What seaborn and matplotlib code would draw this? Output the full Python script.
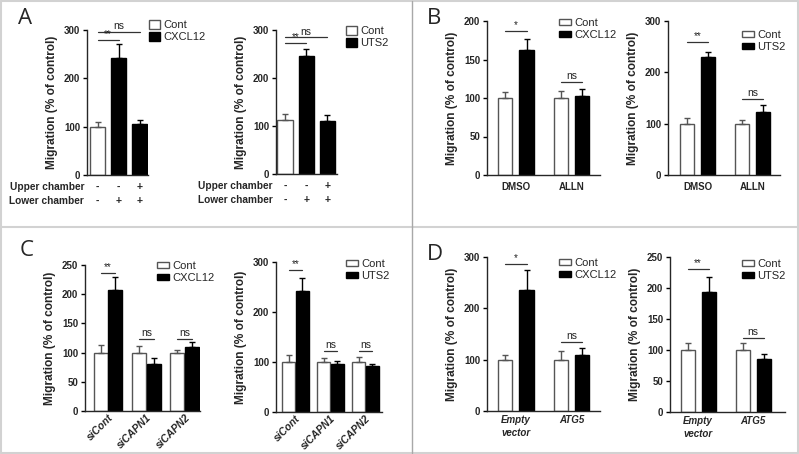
import numpy as np
import pandas as pd
import matplotlib.pyplot as plt
import seaborn as sns

# ---- data (migration, % of control; mean and upper SEM) ----

# A: chemokine in upper / lower chamber
a_bars = ['b1', 'b2', 'b3']
a_upper = ['-', '-', '+']
a_lower = ['-', '+', '+']
a_cxcl12_cond = ['Cont', 'CXCL12', 'CXCL12']
a_cxcl12_mean = [100, 243, 105]
a_cxcl12_err = [10, 29, 9]
a_uts2_cond = ['Cont', 'UTS2', 'UTS2']
a_uts2_mean = [112, 245, 111]
a_uts2_err = [12, 15, 12]

# B: calpain inhibitor
b_groups = ['DMSO', 'ALLN']
b_cxcl12_cont = [100, 100]
b_cxcl12_cont_err = [8, 9]
b_cxcl12 = [162, 103]
b_cxcl12_err = [15, 9]
b_uts2_cont = [100, 100]
b_uts2_cont_err = [11, 8]
b_uts2 = [230, 122]
b_uts2_err = [9, 15]

# C: calpain knockdown
c_groups = ['siCont', 'siCAPN1', 'siCAPN2']
c_cxcl12_cont = [100, 100, 100]
c_cxcl12_cont_err = [13, 12, 5]
c_cxcl12 = [208, 80, 109]
c_cxcl12_err = [21, 11, 9]
c_uts2_cont = [100, 100, 100]
c_uts2_cont_err = [14, 9, 11]
c_uts2 = [242, 97, 93]
c_uts2_err = [26, 6, 4]

# D: ATG5
d_groups = ['Empty\nvector', 'ATG5']
d_cxcl12_cont = [100, 100]
d_cxcl12_cont_err = [10, 16]
d_cxcl12 = [235, 110]
d_cxcl12_err = [39, 12]
d_uts2_cont = [100, 100]
d_uts2_cont_err = [11, 11]
d_uts2 = [194, 85]
d_uts2_err = [24, 9]

# significance marks: (first bar, second bar, height, label)
a_cxcl12_sig = [(0, 1, 279, '**'), (0, 2, 296, 'ns')]
a_uts2_sig = [(0, 1, 273, '**'), (0, 2, 285, 'ns')]
b_cxcl12_sig = [(0, 187, '*'), (1, 121, 'ns')]
b_uts2_sig = [(0, 259, '**'), (1, 148, 'ns')]
c_cxcl12_sig = [(0, 237, '**'), (1, 124, 'ns'), (2, 124, 'ns')]
c_uts2_sig = [(0, 284, '**'), (1, 123, 'ns'), (2, 123, 'ns')]
d_cxcl12_sig = [(0, 286, '*'), (1, 135, 'ns')]
d_uts2_sig = [(0, 231, '**'), (1, 120, 'ns')]

# ---- style ----
sns.set_style('ticks')
plt.rcParams['font.family'] = ['Liberation Sans', 'DejaVu Sans']
plt.rcParams['axes.linewidth'] = 1.0

W, H = 799, 454
fig = plt.figure(figsize=(W / 100, H / 100), dpi=100)
EDGE_WHITE = '#555555'


def add_ax(left, top, right, bottom):
    return fig.add_axes([left / W, 1 - bottom / H, (right - left) / W, (bottom - top) / H])


def style_axis(ax, ymax, step, xlim):
    ax.set_ylim(0, ymax)
    ax.set_xlim(*xlim)
    ax.set_yticks(np.arange(0, ymax + 1, step))
    sns.despine(ax=ax)
    ax.tick_params(axis='y', labelsize=7, length=3, width=1, pad=2, color='black')
    ax.tick_params(axis='x', labelsize=7, length=0, pad=5)
    for lbl in ax.get_yticklabels() + ax.get_xticklabels():
        lbl.set_fontweight('bold')
    ax.set_xlabel('')
    ax.set_ylabel('Migration (% of control)', fontsize=8.6, fontweight='bold', labelpad=4)


def add_legend(ax, labels, x, y, square=True):
    handles = [c for c in ax.containers]
    ax.legend(handles, labels, loc='upper left', bbox_to_anchor=(x / W, 1 - y / H),
              bbox_transform=fig.transFigure, frameon=False, fontsize=8,
              handlelength=0.95 if square else 1.1, handleheight=0.85 if square else 0.5,
              handletextpad=0.3, labelspacing=0.15, borderpad=0, borderaxespad=0)


def sig_line(ax, x1, x2, y, label):
    ax.plot([x1, x2], [y, y], color='#333333', lw=0.9, clip_on=False)
    ax.annotate(label, xy=((x1 + x2) / 2, y), xytext=(0, 0.5), textcoords='offset points',
                ha='center', va='bottom', fontsize=7.5 if label == 'ns' else 7,
                color='#222222', annotation_clip=False)


def panel_a(ax, cond, means, errs, name, sigs, xlim, legend_xy):
    pal = {'Cont': 'white', name: 'black'}
    sns.barplot(x=a_bars, y=means, hue=cond, dodge=False, palette=pal, width=0.72,
                edgecolor=EDGE_WHITE, linewidth=1, legend=False, ax=ax)
    for c in ax.containers[1:]:
        for p in c:
            p.set_edgecolor('black')
    for i, (m, e, cnd) in enumerate(zip(means, errs, cond)):
        col = EDGE_WHITE if cnd == 'Cont' else 'black'
        ax.errorbar([i], [m], yerr=[[0], [e]], fmt='none', ecolor=col, elinewidth=1,
                    capsize=2.5, capthick=1)
    style_axis(ax, 300, 100, xlim)
    ax.set_xticks([])
    for x1, x2, y, lab in sigs:
        sig_line(ax, x1, x2, y, lab)
    for txt, dy in [('Upper chamber', -12), ('Lower chamber', -26)]:
        ax.annotate(txt, xy=(0, 0), xycoords='axes fraction', xytext=(-3, dy),
                    textcoords='offset pixels', ha='right', va='center', fontsize=7.3,
                    fontweight='bold')
    for i in range(len(a_bars)):
        for sign, dy in [(a_upper[i], -12), (a_lower[i], -26)]:
            ax.annotate(sign, xy=(i, 0), xycoords=('data', 'axes fraction'), xytext=(0, dy),
                        textcoords='offset pixels', ha='center', va='center', fontsize=7.5,
                        fontweight='bold')
    add_legend(ax, ['Cont', name], *legend_xy)


def panel_grouped(ax, groups, cont, cont_err, treat, treat_err, name, sigs, ymax, step,
                  xlim, width, gap, legend_xy):
    df = pd.DataFrame({
        'group': groups * 2,
        'cond': ['Cont'] * len(groups) + [name] * len(groups),
        'value': cont + treat,
    })
    sns.barplot(data=df, x='group', y='value', hue='cond',
                palette={'Cont': 'white', name: 'black'}, width=width, gap=gap,
                edgecolor=EDGE_WHITE, linewidth=1, errorbar=None, legend=False, ax=ax)
    for p in ax.containers[1]:
        p.set_edgecolor('black')
    centers = []
    for c, means, errs, col in zip(ax.containers, [cont, treat], [cont_err, treat_err],
                                   [EDGE_WHITE, 'black']):
        xs = [p.get_x() + p.get_width() / 2 for p in c]
        centers.append(xs)
        ax.errorbar(xs, means, yerr=[np.zeros(len(errs)), errs], fmt='none', ecolor=col,
                    elinewidth=1, capsize=2.5, capthick=1)
    style_axis(ax, ymax, step, xlim)
    for g, y, lab in sigs:
        sig_line(ax, centers[0][g], centers[1][g], y, lab)
    add_legend(ax, ['Cont', name], *legend_xy, square=False)


# ---- panel A ----
ax = add_ax(87, 30, 148, 175)
panel_a(ax, a_cxcl12_cond, a_cxcl12_mean, a_cxcl12_err, 'CXCL12', a_cxcl12_sig,
        (-0.5, 2.4), (149, 20))
ax = add_ax(276, 30, 337, 174)
panel_a(ax, a_uts2_cond, a_uts2_mean, a_uts2_err, 'UTS2', a_uts2_sig,
        (-0.43, 2.46), (346, 26))

# ---- panel B ----
ax = add_ax(487, 21, 600, 175)
panel_grouped(ax, b_groups, b_cxcl12_cont, b_cxcl12_cont_err, b_cxcl12, b_cxcl12_err,
              'CXCL12', b_cxcl12_sig, 200, 50, (-0.52, 1.51), 0.76, 0.33, (559, 18))
ax = add_ax(668, 21, 780, 175)
panel_grouped(ax, b_groups, b_uts2_cont, b_uts2_cont_err, b_uts2, b_uts2_err,
              'UTS2', b_uts2_sig, 300, 100, (-0.54, 1.5), 0.76, 0.33, (742, 30))

# ---- panel C ----
ax = add_ax(85, 265, 200, 411)
panel_grouped(ax, c_groups, c_cxcl12_cont, c_cxcl12_cont_err, c_cxcl12, c_cxcl12_err,
              'CXCL12', c_cxcl12_sig, 250, 50, (-0.6, 2.4), 0.77, 0.04, (157, 261))
ax.tick_params(axis='x', pad=1)
for lbl in ax.get_xticklabels():
    lbl.set(rotation=45, ha='right', rotation_mode='anchor', fontstyle='italic', fontsize=7.5)
ax = add_ax(276, 262, 382, 412)
panel_grouped(ax, c_groups, c_uts2_cont, c_uts2_cont_err, c_uts2, c_uts2_err,
              'UTS2', c_uts2_sig, 300, 100, (-0.55, 2.47), 0.77, 0.04, (346, 259))
ax.tick_params(axis='x', pad=1)
for lbl in ax.get_xticklabels():
    lbl.set(rotation=45, ha='right', rotation_mode='anchor', fontstyle='italic', fontsize=7.5)

# ---- panel D ----
ax = add_ax(487, 257, 600, 411)
panel_grouped(ax, d_groups, d_cxcl12_cont, d_cxcl12_cont_err, d_cxcl12, d_cxcl12_err,
              'CXCL12', d_cxcl12_sig, 300, 100, (-0.52, 1.51), 0.76, 0.33, (559, 258))
ax.tick_params(axis='x', pad=3)
for lbl in ax.get_xticklabels():
    lbl.set(fontstyle='italic', va='top', linespacing=1.3)
ax = add_ax(670, 257, 785, 412)
panel_grouped(ax, d_groups, d_uts2_cont, d_uts2_cont_err, d_uts2, d_uts2_err,
              'UTS2', d_uts2_sig, 250, 50, (-0.51, 1.58), 0.76, 0.33, (742, 259))
ax.tick_params(axis='x', pad=3)
for lbl in ax.get_xticklabels():
    lbl.set(fontstyle='italic', va='top', linespacing=1.3)

# ---- panel letters and frames ----
for letter, x, y in [('A', 18, 8), ('B', 427, 8), ('C', 20, 240), ('D', 427, 244)]:
    fig.text(x / W, 1 - y / H, letter, fontsize=16, va='top', ha='left',
             family=['Open Sans', 'DejaVu Sans'])


def frame_line(x1, y1, x2, y2, color, lw):
    fig.add_artist(plt.Line2D([x1 / W, x2 / W], [1 - y1 / H, 1 - y2 / H],
                              transform=fig.transFigure, color=color, lw=lw))


frame_line(1, 1, 798, 1, '#d2d2d2', 1.5)
frame_line(1, 453, 798, 453, '#d2d2d2', 1.5)
frame_line(1, 1, 1, 453, '#d2d2d2', 1.5)
frame_line(798, 1, 798, 453, '#d2d2d2', 1.5)
frame_line(1, 226.5, 798, 226.5, '#d2d2d2', 1.5)
frame_line(411.5, 1, 411.5, 453, '#a8a8a8', 1.0)

fig.savefig('out.png', dpi=100)
